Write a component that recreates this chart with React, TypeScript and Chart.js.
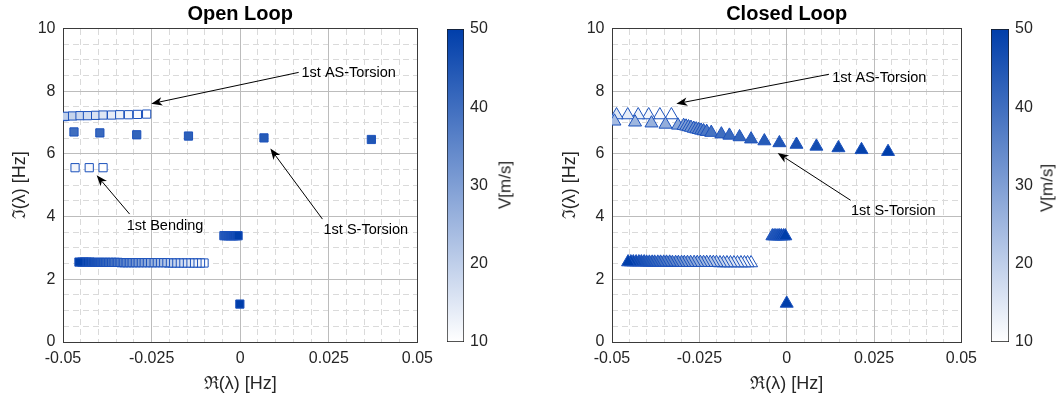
import React, { useEffect, useRef } from 'react';
import { Chart, registerables } from 'chart.js';
Chart.register(...registerables);

const FONT = '"Liberation Sans", Arial, Helvetica, sans-serif';

// ---------- tick labels ----------
const xTickLabels = ['-0.05', '-0.025', '0', '0.025', '0.05'];
const yTickLabels = ['0', '2', '4', '6', '8', '10'];
const cbTickLabels = ['10', '20', '30', '40', '50'];

// ---------- Open loop data ----------
const olAsTorsionX = [-0.0499, -0.0494, -0.0473, -0.0452, -0.0431, -0.0408, -0.0387, -0.0363, -0.034, -0.0315, -0.029, -0.0264];
const olAsTorsionY = [7.19, 7.2, 7.21, 7.22, 7.22, 7.23, 7.24, 7.24, 7.25, 7.25, 7.26, 7.27];
const olAsTorsionV = [21, 20, 19, 18, 17, 16, 15, 14, 13, 12, 11, 10];

const olSTorsionX = [-0.0469, -0.0396, -0.0292, -0.0146, 0.0067, 0.037];
const olSTorsionY = [6.7, 6.67, 6.61, 6.57, 6.51, 6.46];
const olSTorsionV = [40, 41, 42, 43, 44, 45];

const olBendHighX = [-0.0466, -0.0426, -0.0387];
const olBendHighY = [5.56, 5.56, 5.56];
const olBendHighV = [12, 11, 10];

const olBandX = [-0.0102, -0.0112, -0.0122, -0.0132, -0.0142, -0.0152, -0.0162, -0.0172, -0.0182, -0.0192, -0.0202, -0.0211, -0.022, -0.023, -0.0239, -0.0248, -0.0257, -0.0266, -0.0276, -0.0285, -0.0294, -0.0302, -0.0311, -0.0319, -0.0328, -0.0336, -0.0345, -0.0353, -0.0362, -0.037, -0.0379, -0.0386, -0.0394, -0.0402, -0.0409, -0.0417, -0.0424, -0.0432, -0.044, -0.0447, -0.0455];
const olBandY = [2.52, 2.52, 2.52, 2.52, 2.52, 2.52, 2.52, 2.52, 2.52, 2.52, 2.52, 2.53, 2.53, 2.53, 2.53, 2.53, 2.53, 2.53, 2.53, 2.53, 2.53, 2.53, 2.53, 2.53, 2.53, 2.53, 2.54, 2.54, 2.54, 2.54, 2.54, 2.54, 2.54, 2.54, 2.54, 2.54, 2.55, 2.55, 2.55, 2.55, 2.55];
const olBandV = [10, 11, 12, 13, 14, 15, 16, 17, 18, 19, 20, 21, 22, 23, 24, 25, 26, 27, 28, 29, 30, 31, 32, 33, 34, 35, 36, 37, 38, 39, 40, 41, 42, 43, 44, 45, 46, 47, 48, 49, 50];

const olHeaveX = [-0.0046, -0.004, -0.0034, -0.0028, -0.0022, -0.0017, -0.0011, -0.0006];
const olHeaveY = [3.39, 3.39, 3.39, 3.39, 3.39, 3.39, 3.39, 3.39];
const olHeaveV = [43, 44, 45, 46, 47, 48, 49, 50];

const olLowX = [-0.0001];
const olLowY = [1.21];
const olLowV = [50];

// ---------- Closed loop data ----------
const clAsUpperX = [-0.033, -0.0363, -0.0395, -0.0425, -0.0455, -0.0487];
const clAsUpperY = [7.24, 7.24, 7.24, 7.24, 7.24, 7.24];
const clAsUpperV = [10, 11, 12, 13, 14, 15];

const clAsLowerX = [-0.0493, -0.0434, -0.0387, -0.0347, -0.0311, -0.0295, -0.0288, -0.0281, -0.0274, -0.0266, -0.0259, -0.0252, -0.0245, -0.0238, -0.0229, -0.0216, -0.0187, -0.0164, -0.0135, -0.0102, -0.0064, -0.0021, 0.0028, 0.0085, 0.0148, 0.0214, 0.029];
const clAsLowerY = [7.04, 7.01, 6.98, 6.94, 6.91, 6.9, 6.88, 6.86, 6.84, 6.81, 6.79, 6.77, 6.75, 6.73, 6.71, 6.68, 6.63, 6.59, 6.54, 6.47, 6.41, 6.35, 6.3, 6.24, 6.19, 6.13, 6.07];
const clAsLowerV = [24, 25, 26, 27, 28, 29, 30, 31, 32, 33, 34, 35, 36, 37, 38, 39, 40, 41, 42, 43, 44, 45, 46, 47, 48, 49, 50];

const clBandX = [-0.0102, -0.0112, -0.0121, -0.0131, -0.0141, -0.0151, -0.0161, -0.0171, -0.0181, -0.0191, -0.0201, -0.021, -0.0219, -0.0229, -0.0238, -0.0247, -0.0256, -0.0265, -0.0275, -0.0284, -0.0293, -0.0301, -0.031, -0.0318, -0.0327, -0.0335, -0.0344, -0.0352, -0.0361, -0.0369, -0.0378, -0.0385, -0.0393, -0.0401, -0.0408, -0.0416, -0.0423, -0.0431, -0.0439, -0.0446, -0.0454];
const clBandY = [2.52, 2.52, 2.52, 2.52, 2.52, 2.52, 2.52, 2.52, 2.52, 2.52, 2.53, 2.53, 2.53, 2.53, 2.53, 2.53, 2.53, 2.53, 2.53, 2.53, 2.53, 2.53, 2.53, 2.53, 2.53, 2.54, 2.54, 2.54, 2.54, 2.54, 2.54, 2.54, 2.54, 2.54, 2.55, 2.55, 2.55, 2.55, 2.55, 2.55, 2.55];
const clBandV = [10, 11, 12, 13, 14, 15, 16, 17, 18, 19, 20, 21, 22, 23, 24, 25, 26, 27, 28, 29, 30, 31, 32, 33, 34, 35, 36, 37, 38, 39, 40, 41, 42, 43, 44, 45, 46, 47, 48, 49, 50];

const clHeaveX = [-0.0041, -0.0036, -0.0031, -0.0025, -0.002, -0.0015, -0.0009, -0.0004];
const clHeaveY = [3.38, 3.38, 3.38, 3.38, 3.38, 3.38, 3.38, 3.38];
const clHeaveV = [43, 44, 45, 46, 47, 48, 49, 50];

const clLowX = [0.0];
const clLowY = [1.23];
const clLowV = [50];

// ---------- annotations (data coordinates) ----------
const olNotes = [
  { text: '1st AS-Torsion', tail: [0.0165, 8.6], tip: [-0.0251, 7.6], at: [0.0173, 8.57] },
  { text: '1st Bending', tail: [-0.0312, 4.08], tip: [-0.0405, 5.32], at: [-0.032, 3.69] },
  { text: '1st S-Torsion', tail: [0.0232, 3.92], tip: [0.0085, 6.17], at: [0.0235, 3.57] },
];
const clNotes = [
  { text: '1st AS-Torsion', tail: [0.0121, 8.54], tip: [-0.0316, 7.6], at: [0.013, 8.42] },
  { text: '1st S-Torsion', tail: [0.0183, 4.52], tip: [-0.0026, 6.03], at: [0.0184, 4.17] },
];

// ---------- colormap ----------
const CMAP_LOW = [255, 255, 255];
const CMAP_HIGH = [0, 62, 170];
const V_MIN = 10;
const V_MAX = 50;
function colorFor(v: number): string {
  const t = Math.max(0, Math.min(1, (v - V_MIN) / (V_MAX - V_MIN)));
  const c = CMAP_LOW.map((lo, i) => Math.round(lo + (CMAP_HIGH[i] - lo) * t));
  return `rgb(${c[0]},${c[1]},${c[2]})`;
}
const EDGE = 'rgb(28,82,188)';

function series(xs: number[], ys: number[], vs: number[], style: string, radius: number) {
  return {
    type: 'scatter' as const,
    xAxisID: 'x',
    yAxisID: 'y',
    data: xs.map((x, i) => ({ x, y: ys[i] })),
    pointStyle: style,
    pointRadius: radius,
    pointHoverRadius: radius,
    pointBackgroundColor: vs.map(colorFor),
    pointBorderColor: EDGE,
    pointBorderWidth: 1,
    showLine: false,
  };
}

function notesPlugin(notes: typeof olNotes) {
  return {
    id: 'notes',
    afterDatasetsDraw(chart: any) {
      const { ctx } = chart;
      const xs = chart.scales.x;
      const ys = chart.scales.y;
      ctx.save();
      ctx.strokeStyle = '#000';
      ctx.fillStyle = '#000';
      ctx.lineWidth = 1;
      for (const n of notes) {
        const x1 = xs.getPixelForValue(n.tail[0]);
        const y1 = ys.getPixelForValue(n.tail[1]);
        const x2 = xs.getPixelForValue(n.tip[0]);
        const y2 = ys.getPixelForValue(n.tip[1]);
        const a = Math.atan2(y2 - y1, x2 - x1);
        const c = Math.cos(a), s = Math.sin(a);
        const L = 11, W = 4.2, N = 8;
        ctx.beginPath();
        ctx.moveTo(x1, y1);
        ctx.lineTo(x2 - N * c, y2 - N * s);
        ctx.stroke();
        ctx.beginPath();
        ctx.moveTo(x2, y2);
        ctx.lineTo(x2 - L * c + W * s, y2 - L * s - W * c);
        ctx.lineTo(x2 - N * c, y2 - N * s);
        ctx.lineTo(x2 - L * c - W * s, y2 - L * s + W * c);
        ctx.closePath();
        ctx.fill();
        ctx.font = `14.5px ${FONT}`;
        ctx.textAlign = 'left';
        ctx.textBaseline = 'middle';
        ctx.fillText(n.text, xs.getPixelForValue(n.at[0]), ys.getPixelForValue(n.at[1]));
      }
      ctx.restore();
    },
  };
}

function scatterConfig(title: string, datasets: any[], notes: typeof olNotes, yWidth: number, yTitlePad: number, rightPad: number): any {
  const tickFont = { family: FONT, size: 16 };
  const titleFont = { family: FONT, size: 18 };
  return {
    type: 'scatter',
    data: { datasets },
    plugins: [notesPlugin(notes)],
    options: {
      animation: false,
      responsive: false,
      events: [],
      layout: { padding: { left: 0, right: rightPad, top: 0, bottom: 0 } },
      plugins: {
        legend: { display: false },
        tooltip: { enabled: false },
        title: {
          display: true,
          text: title,
          fullSize: false,
          color: '#000',
          font: { family: FONT, size: 20, weight: 'bold' },
          padding: { top: 2.5, bottom: 2 },
        },
      },
      scales: {
        x: {
          type: 'linear',
          position: 'bottom',
          min: -0.05,
          max: 0.05,
          afterFit: (s: any) => { s.height = 64; },
          ticks: {
            stepSize: 0.025,
            autoSkip: false,
            maxRotation: 0,
            padding: 7,
            color: '#262626',
            font: tickFont,
            callback: (_v: any, i: number) => xTickLabels[i],
          },
          grid: { color: '#bcbcbc', lineWidth: 1, drawTicks: false, z: -1 },
          border: { display: true, color: '#3a3a3a', width: 1 },
          title: { display: true, text: 'ℜ(λ) [Hz]', color: '#262626', font: titleFont, padding: { top: 0, bottom: 11 } },
        },
        x2: {
          type: 'linear',
          position: 'top',
          min: -0.05,
          max: 0.05,
          afterFit: (s: any) => { s.height = 0; },
          ticks: { display: false, stepSize: 0.005, maxTicksLimit: 100 },
          grid: { color: '#dadada', lineWidth: 1, drawTicks: false, z: -2 },
          border: { display: true, color: '#3a3a3a', width: 1, dash: [6, 4] },
        },
        y: {
          type: 'linear',
          position: 'left',
          min: 0,
          max: 10,
          afterFit: (s: any) => { s.width = yWidth; },
          ticks: {
            stepSize: 2,
            autoSkip: false,
            padding: 7.5,
            color: '#262626',
            font: tickFont,
            callback: (_v: any, i: number) => yTickLabels[i],
          },
          grid: { color: '#bcbcbc', lineWidth: 1, drawTicks: false, z: -1 },
          border: { display: true, color: '#3a3a3a', width: 1 },
          title: { display: true, text: 'ℑ(λ) [Hz]', color: '#262626', font: titleFont, padding: { top: yTitlePad, bottom: 0 } },
        },
        y2: {
          type: 'linear',
          position: 'right',
          min: 0,
          max: 10,
          afterFit: (s: any) => { s.width = 0; },
          ticks: { display: false, stepSize: 0.5, maxTicksLimit: 100 },
          grid: { color: '#dadada', lineWidth: 1, drawTicks: false, z: -2 },
          border: { display: true, color: '#3a3a3a', width: 1, dash: [6, 4] },
        },
      },
    },
  };
}

function colorbarConfig(padLeft: number, axisWidth: number, padTop: number, padBottom: number): any {
  return {
    type: 'bar',
    data: {
      labels: [''],
      datasets: [
        {
          data: [[V_MIN, V_MAX]],
          backgroundColor: (c: any) => {
            const area = c.chart.chartArea;
            if (!area) return colorFor(30);
            const g = c.chart.ctx.createLinearGradient(0, area.bottom, 0, area.top);
            g.addColorStop(0, colorFor(V_MIN));
            g.addColorStop(1, colorFor(V_MAX));
            return g;
          },
          borderColor: '#1a1a1a',
          borderWidth: 1,
          borderSkipped: false,
          barPercentage: 1,
          categoryPercentage: 1,
        },
      ],
    },
    options: {
      animation: false,
      responsive: false,
      events: [],
      layout: { padding: { left: padLeft, right: 0, top: padTop, bottom: padBottom } },
      plugins: { legend: { display: false }, tooltip: { enabled: false } },
      scales: {
        x: { display: false },
        y: {
          position: 'right',
          min: V_MIN,
          max: V_MAX,
          afterFit: (s: any) => { s.width = axisWidth; },
          ticks: {
            stepSize: 10,
            padding: 6,
            color: '#262626',
            font: { family: FONT, size: 16 },
            callback: (_v: any, i: number) => cbTickLabels[i],
          },
          grid: { display: false, drawTicks: false },
          border: { display: false },
        },
      },
    },
  };
}

export default function App() {
  const leftRef = useRef<HTMLCanvasElement>(null);
  const leftCbRef = useRef<HTMLCanvasElement>(null);
  const rightRef = useRef<HTMLCanvasElement>(null);
  const rightCbRef = useRef<HTMLCanvasElement>(null);

  useEffect(() => {
    const sq = 5.8;
    const tri = 7.5;
    const olSets = [
      series(olLowX, olLowY, olLowV, 'rect', sq),
      series(olHeaveX, olHeaveY, olHeaveV, 'rect', sq),
      series(olSTorsionX, olSTorsionY, olSTorsionV, 'rect', sq),
      series(olAsTorsionX, olAsTorsionY, olAsTorsionV, 'rect', sq),
      series(olBendHighX, olBendHighY, olBendHighV, 'rect', sq),
      series(olBandX, olBandY, olBandV, 'rect', sq),
    ];
    const clSets = [
      series(clLowX, clLowY, clLowV, 'triangle', tri),
      series(clHeaveX, clHeaveY, clHeaveV, 'triangle', tri),
      series(clAsLowerX, clAsLowerY, clAsLowerV, 'triangle', tri),
      series(clAsUpperX, clAsUpperY, clAsUpperV, 'triangle', tri),
      series(clBandX, clBandY, clBandV, 'triangle', tri),
    ];
    const charts = [
      new Chart(leftRef.current!, scatterConfig('Open Loop', olSets, olNotes, 63, 9, 20.5)),
      new Chart(rightRef.current!, scatterConfig('Closed Loop', clSets, clNotes, 64, 11, 21)),
      new Chart(leftCbRef.current!, colorbarConfig(7, 46, 29, 64)),
      new Chart(rightCbRef.current!, colorbarConfig(7, 53, 29, 64)),
    ];
    return () => charts.forEach((c) => c.destroy());
  }, []);

  const vLabel = (cx: number, cy: number): React.CSSProperties => ({
    position: 'absolute',
    left: cx,
    top: cy,
    transform: 'translate(-50%, -50%) rotate(-90deg)',
    whiteSpace: 'nowrap',
    fontFamily: FONT,
    fontSize: 17,
    color: '#262626',
    lineHeight: 1,
  });

  return (
    <div style={{ position: 'absolute', left: 0, top: 0, width: 1062, height: 406, background: '#fff', overflow: 'hidden' }}>
      <canvas ref={leftRef} width={440} height={406} style={{ position: 'absolute', left: 0, top: 0 }} />
      <canvas ref={leftCbRef} width={70} height={406} style={{ position: 'absolute', left: 440, top: 0 }} />
      <canvas ref={rightRef} width={436} height={406} style={{ position: 'absolute', left: 548, top: 0 }} />
      <canvas ref={rightCbRef} width={78} height={406} style={{ position: 'absolute', left: 984, top: 0 }} />
      <div style={vLabel(505, 185)}>V[m/s]</div>
      <div style={vLabel(1047, 188)}>V[m/s]</div>
    </div>
  );
}
